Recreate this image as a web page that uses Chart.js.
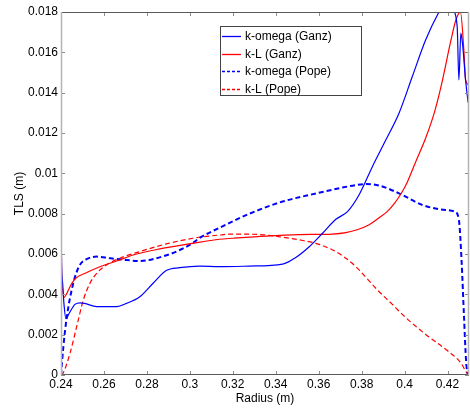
<!DOCTYPE html>
<html>
<head>
<meta charset="utf-8">
<script src="https://cdn.jsdelivr.net/npm/chart.js@4.4.0/dist/chart.umd.min.js"></script>
<style>
  html, body { margin: 0; padding: 0; background: #fff; }
  canvas { display: block; }
</style>
</head>
<body>
<canvas id="c" width="470" height="409"></canvas>
<script>
// ---- Data ----
const xTicks = [0.24, 0.26, 0.28, 0.30, 0.32, 0.34, 0.36, 0.38, 0.40, 0.42];
const yTicks = [0, 0.002, 0.004, 0.006, 0.008, 0.010, 0.012, 0.014, 0.016, 0.018];

const kOmegaGanzX = [0.2400, 0.2402, 0.2408, 0.2414, 0.2423, 0.2440, 0.2465, 0.2490, 0.2510, 0.2566, 0.2659, 0.2705, 0.2767, 0.2829, 0.2890, 0.2953, 0.3046, 0.3138, 0.3278, 0.3432, 0.3495, 0.3556, 0.3618, 0.3680, 0.3734, 0.3789, 0.3850, 0.3913, 0.3974, 0.4036, 0.4098, 0.4160, 0.4195, 0.4226, 0.4245, 0.4253, 0.4262, 0.4270, 0.4284, 0.4296];
const kOmegaGanzY = [0.0090, 0.0060, 0.0045, 0.0035, 0.0028, 0.0031, 0.0035, 0.00358, 0.00355, 0.00339, 0.00339, 0.00355, 0.00388, 0.00455, 0.00518, 0.00532, 0.00540, 0.00537, 0.00540, 0.00550, 0.00584, 0.00636, 0.00703, 0.00772, 0.00810, 0.00895, 0.01033, 0.01166, 0.01298, 0.01480, 0.01661, 0.01800, 0.01860, 0.01810, 0.01727, 0.01463, 0.01695, 0.01640, 0.01463, 0.01350];

const kLGanzX = [0.2400, 0.2403, 0.2408, 0.2414, 0.2425, 0.2442, 0.2465, 0.2520, 0.2581, 0.2659, 0.2736, 0.2860, 0.3014, 0.3138, 0.3200, 0.3355, 0.3510, 0.3665, 0.3727, 0.3779, 0.3835, 0.3881, 0.3919, 0.3951, 0.3984, 0.4012, 0.4053, 0.4100, 0.4141, 0.4174, 0.4216, 0.4239, 0.4260, 0.4276, 0.4284, 0.4296];
const kLGanzY = [0.0077, 0.0052, 0.0042, 0.00385, 0.0040, 0.00438, 0.00476, 0.00508, 0.00537, 0.00565, 0.00595, 0.00625, 0.00653, 0.00673, 0.00678, 0.00689, 0.00696, 0.00699, 0.00706, 0.00720, 0.00745, 0.00780, 0.00810, 0.00848, 0.00900, 0.00955, 0.01060, 0.01180, 0.01310, 0.01450, 0.01660, 0.01760, 0.01800, 0.01612, 0.01463, 0.01440];

const kOmegaPopeX = [0.2400, 0.2411, 0.2426, 0.2457, 0.2488, 0.2519, 0.2566, 0.2627, 0.2705, 0.2767, 0.2844, 0.2937, 0.3014, 0.3046, 0.3138, 0.3278, 0.3432, 0.3587, 0.3696, 0.3773, 0.3820, 0.3880, 0.3974, 0.4083, 0.4191, 0.4234, 0.4253, 0.4266, 0.4276, 0.4287, 0.4296];
const kOmegaPopeY = [0.0000, 0.0014, 0.0028, 0.00455, 0.00546, 0.00574, 0.00587, 0.00579, 0.00570, 0.00565, 0.00579, 0.00612, 0.00655, 0.00680, 0.00730, 0.00800, 0.00860, 0.00900, 0.00926, 0.00942, 0.00947, 0.00940, 0.00901, 0.00843, 0.00818, 0.00810, 0.00769, 0.00554, 0.00307, 0.00060, 0.0000];

const kLPopeX = [0.2400, 0.2410, 0.2442, 0.2473, 0.2504, 0.2535, 0.2566, 0.2612, 0.2674, 0.2767, 0.2890, 0.3014, 0.3138, 0.3200, 0.3355, 0.3432, 0.3510, 0.3587, 0.3665, 0.3727, 0.3780, 0.3866, 0.3943, 0.4000, 0.4100, 0.4200, 0.4262, 0.4284, 0.4296];
const kLPopeY = [0.0000, 0.0001, 0.00108, 0.0024, 0.00372, 0.00455, 0.00504, 0.00546, 0.00579, 0.00612, 0.00650, 0.00678, 0.00694, 0.00699, 0.00694, 0.00683, 0.00670, 0.00653, 0.00620, 0.00579, 0.00530, 0.00430, 0.00350, 0.00290, 0.00200, 0.00120, 0.00060, 0.00020, 0.0000];

const seriesLabels = ['k-omega (Ganz)', 'k-L (Ganz)', 'k-omega (Pope)', 'k-L (Pope)'];
const seriesColors = ['#0000ff', '#ff0000', '#0000ff', '#ff0000'];

const FONT = "'Liberation Sans', Arial, Helvetica, sans-serif";
const pts = (xs, ys) => xs.map((x, i) => ({x: x, y: ys[i]}));

const framePlugin = {
  id: 'frame',
  afterDatasetsDraw(chart) {
    const {ctx, chartArea: a, scales: {x, y}} = chart;
    ctx.save();
    // tick marks (inward, on all four sides)
    ctx.strokeStyle = '#8c8c8c';
    ctx.lineWidth = 1;
    ctx.beginPath();
    xTicks.forEach(v => {
      const px = Math.round(x.getPixelForValue(v)) + 0.5;
      ctx.moveTo(px, a.bottom); ctx.lineTo(px, a.bottom - 4);
      ctx.moveTo(px, a.top); ctx.lineTo(px, a.top + 4);
    });
    yTicks.forEach(v => {
      const py = Math.round(y.getPixelForValue(v)) + 0.5;
      ctx.moveTo(a.left, py); ctx.lineTo(a.left + 4, py);
      ctx.moveTo(a.right, py); ctx.lineTo(a.right - 4, py);
    });
    ctx.stroke();
    // box
    ctx.strokeStyle = '#5a5a5a';
    ctx.beginPath();
    ctx.moveTo(a.left, Math.round(a.bottom) - 0.5); ctx.lineTo(a.right, Math.round(a.bottom) - 0.5);
    ctx.moveTo(a.left, Math.round(a.top) + 0.5); ctx.lineTo(a.right, Math.round(a.top) + 0.5);
    ctx.stroke();
    ctx.strokeStyle = '#b4b4b4';
    ctx.lineWidth = 1.5;
    ctx.beginPath();
    ctx.moveTo(a.left + 0.5, a.top); ctx.lineTo(a.left + 0.5, a.bottom);
    ctx.moveTo(a.right - 0.5, a.top); ctx.lineTo(a.right - 0.5, a.bottom);
    ctx.stroke();

    // legend
    const bx = 220.5, by = 26.5, bw = 141, bh = 69;
    ctx.fillStyle = '#fff';
    ctx.fillRect(bx, by, bw, bh);
    ctx.strokeStyle = '#444';
    ctx.lineWidth = 1;
    ctx.strokeRect(bx, by, bw, bh);
    ctx.font = '12px ' + FONT;
    ctx.textBaseline = 'middle';
    ctx.textAlign = 'left';
    chart.data.datasets.forEach((ds, i) => {
      const ry = 36 + i * 17.5;
      ctx.save();
      ctx.strokeStyle = seriesColors[i];
      ctx.lineWidth = 1.3;
      ctx.setLineDash(i >= 2 ? [3, 2] : []);
      ctx.beginPath();
      ctx.moveTo(222, Math.round(ry) + 0.5); ctx.lineTo(241, Math.round(ry) + 0.5);
      ctx.stroke();
      ctx.restore();
      ctx.fillStyle = '#000';
      ctx.fillText(ds.label, 245, ry + 1);
    });
    ctx.restore();
  }
};

const fmt = v => String(parseFloat(Number(v).toFixed(4)));

new Chart(document.getElementById('c'), {
  type: 'line',
  data: {
    datasets: [
      {label: seriesLabels[0], data: pts(kOmegaGanzX, kOmegaGanzY), borderColor: seriesColors[0], borderWidth: 1.2, cubicInterpolationMode: 'monotone'},
      {label: seriesLabels[1], data: pts(kLGanzX, kLGanzY), borderColor: seriesColors[1], borderWidth: 1.2, cubicInterpolationMode: 'monotone'},
      {label: seriesLabels[2], data: pts(kOmegaPopeX, kOmegaPopeY), borderColor: seriesColors[2], borderWidth: 2, borderDash: [5, 3], cubicInterpolationMode: 'monotone'},
      {label: seriesLabels[3], data: pts(kLPopeX, kLPopeY), borderColor: seriesColors[3], borderWidth: 1.2, borderDash: [5, 3], cubicInterpolationMode: 'monotone'}
    ]
  },
  options: {
    responsive: false,
    animation: false,
    devicePixelRatio: 1,
    layout: {padding: {top: 12, right: 1, left: 0, bottom: 0}},
    elements: {point: {radius: 0}, line: {fill: false}},
    plugins: {legend: {display: false}, tooltip: {enabled: false}},
    scales: {
      x: {
        type: 'linear', min: 0.24, max: 0.43,
        afterBuildTicks: s => { s.ticks = xTicks.map(v => ({value: v})); },
        afterFit: s => { s.height = 34; },
        grid: {display: false, drawTicks: false},
        border: {display: false},
        ticks: {color: '#000', font: {family: FONT, size: 12}, padding: 2, maxRotation: 0, autoSkip: false, callback: v => fmt(v)},
        title: {display: true, text: 'Radius (m)', color: '#000', font: {family: FONT, size: 12}, padding: {top: 0, bottom: 3}}
      },
      y: {
        type: 'linear', min: 0, max: 0.018,
        afterBuildTicks: s => { s.ticks = yTicks.map(v => ({value: v})); },
        afterFit: s => { s.width = 61; },
        grid: {display: false, drawTicks: false},
        border: {display: false},
        ticks: {color: '#000', font: {family: FONT, size: 12}, padding: 3, autoSkip: false, callback: v => fmt(v)},
        title: {display: true, text: 'TLS (m)', color: '#000', font: {family: FONT, size: 12}, padding: {top: 12, bottom: 0}}
      }
    }
  },
  plugins: [framePlugin]
});
</script>
</body>
</html>
